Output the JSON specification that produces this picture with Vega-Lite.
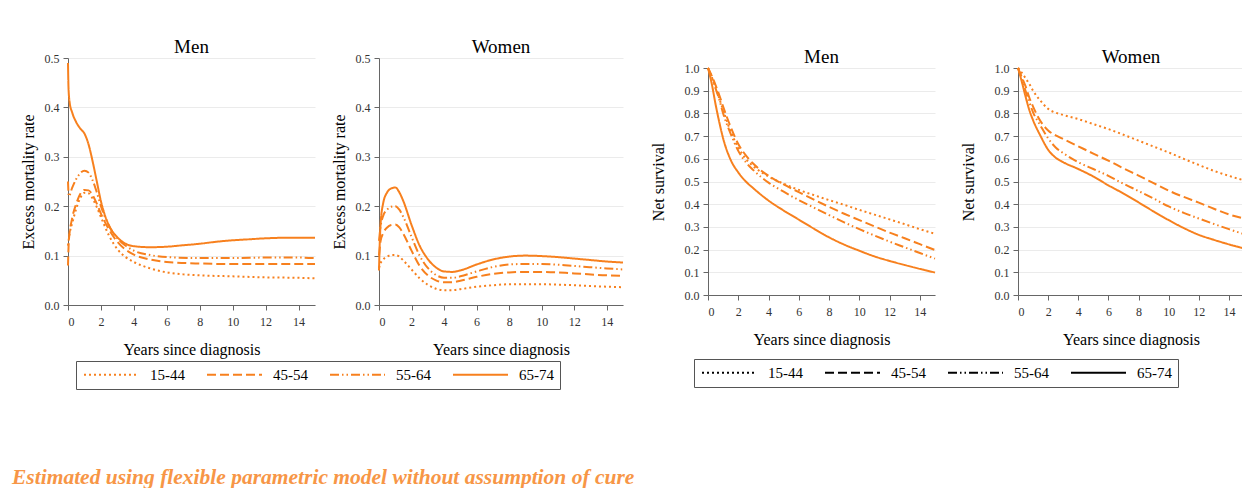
{
  "$schema": "https://vega.github.io/schema/vega-lite/v6.json",
  "background": "white",
  "padding": {"left": 12, "top": 37, "right": 0, "bottom": 0},
  "title": {"text": "Estimated using flexible parametric model without assumption of cure", "orient": "bottom", "anchor": "start", "frame": "bounds", "font": "Liberation Serif", "fontStyle": "italic", "fontWeight": "bold", "fontSize": 21.5, "color": "#F79646", "offset": 77, "dx": -8},
  "datasets": {
    "em": [
      {"sex":"Men","age":"65-74","t":0,"value":0.49},{"sex":"Men","age":"65-74","t":0.03,"value":0.44},{"sex":"Men","age":"65-74","t":0.1,"value":0.41},{"sex":"Men","age":"65-74","t":0.25,"value":0.39},{"sex":"Men","age":"65-74","t":0.5,"value":0.37},{"sex":"Men","age":"65-74","t":0.75,"value":0.357},{"sex":"Men","age":"65-74","t":1,"value":0.347},{"sex":"Men","age":"65-74","t":1.25,"value":0.325},{"sex":"Men","age":"65-74","t":1.5,"value":0.29},{"sex":"Men","age":"65-74","t":1.75,"value":0.25},{"sex":"Men","age":"65-74","t":2,"value":0.21},{"sex":"Men","age":"65-74","t":2.5,"value":0.16},{"sex":"Men","age":"65-74","t":3,"value":0.137},{"sex":"Men","age":"65-74","t":3.5,"value":0.124},{"sex":"Men","age":"65-74","t":4,"value":0.119},{"sex":"Men","age":"65-74","t":5,"value":0.117},{"sex":"Men","age":"65-74","t":6,"value":0.118},{"sex":"Men","age":"65-74","t":7,"value":0.121},{"sex":"Men","age":"65-74","t":8,"value":0.124},{"sex":"Men","age":"65-74","t":9,"value":0.128},{"sex":"Men","age":"65-74","t":10,"value":0.131},{"sex":"Men","age":"65-74","t":11,"value":0.133},{"sex":"Men","age":"65-74","t":12,"value":0.135},{"sex":"Men","age":"65-74","t":13,"value":0.136},{"sex":"Men","age":"65-74","t":14,"value":0.136},{"sex":"Men","age":"65-74","t":15,"value":0.136},
      {"sex":"Men","age":"55-64","t":0,"value":0.25},{"sex":"Men","age":"55-64","t":0.05,"value":0.22},{"sex":"Men","age":"55-64","t":0.25,"value":0.237},{"sex":"Men","age":"55-64","t":0.5,"value":0.255},{"sex":"Men","age":"55-64","t":0.75,"value":0.267},{"sex":"Men","age":"55-64","t":1,"value":0.272},{"sex":"Men","age":"55-64","t":1.25,"value":0.268},{"sex":"Men","age":"55-64","t":1.5,"value":0.252},{"sex":"Men","age":"55-64","t":1.75,"value":0.228},{"sex":"Men","age":"55-64","t":2,"value":0.2},{"sex":"Men","age":"55-64","t":2.5,"value":0.16},{"sex":"Men","age":"55-64","t":3,"value":0.135},{"sex":"Men","age":"55-64","t":3.5,"value":0.12},{"sex":"Men","age":"55-64","t":4,"value":0.11},{"sex":"Men","age":"55-64","t":5,"value":0.101},{"sex":"Men","age":"55-64","t":6,"value":0.097},{"sex":"Men","age":"55-64","t":8,"value":0.095},{"sex":"Men","age":"55-64","t":10,"value":0.095},{"sex":"Men","age":"55-64","t":12,"value":0.096},{"sex":"Men","age":"55-64","t":14,"value":0.096},{"sex":"Men","age":"55-64","t":15,"value":0.095},
      {"sex":"Men","age":"45-54","t":0,"value":0.08},{"sex":"Men","age":"45-54","t":0.05,"value":0.13},{"sex":"Men","age":"45-54","t":0.25,"value":0.175},{"sex":"Men","age":"45-54","t":0.5,"value":0.205},{"sex":"Men","age":"45-54","t":0.75,"value":0.225},{"sex":"Men","age":"45-54","t":1,"value":0.233},{"sex":"Men","age":"45-54","t":1.25,"value":0.232},{"sex":"Men","age":"45-54","t":1.5,"value":0.222},{"sex":"Men","age":"45-54","t":1.75,"value":0.205},{"sex":"Men","age":"45-54","t":2,"value":0.185},{"sex":"Men","age":"45-54","t":2.5,"value":0.152},{"sex":"Men","age":"45-54","t":3,"value":0.128},{"sex":"Men","age":"45-54","t":3.5,"value":0.112},{"sex":"Men","age":"45-54","t":4,"value":0.102},{"sex":"Men","age":"45-54","t":5,"value":0.092},{"sex":"Men","age":"45-54","t":6,"value":0.087},{"sex":"Men","age":"45-54","t":8,"value":0.084},{"sex":"Men","age":"45-54","t":10,"value":0.083},{"sex":"Men","age":"45-54","t":12,"value":0.083},{"sex":"Men","age":"45-54","t":14,"value":0.083},{"sex":"Men","age":"45-54","t":15,"value":0.083},
      {"sex":"Men","age":"15-44","t":0,"value":0.12},{"sex":"Men","age":"15-44","t":0.1,"value":0.145},{"sex":"Men","age":"15-44","t":0.25,"value":0.165},{"sex":"Men","age":"15-44","t":0.5,"value":0.195},{"sex":"Men","age":"15-44","t":0.75,"value":0.217},{"sex":"Men","age":"15-44","t":1,"value":0.227},{"sex":"Men","age":"15-44","t":1.25,"value":0.226},{"sex":"Men","age":"15-44","t":1.5,"value":0.215},{"sex":"Men","age":"15-44","t":1.75,"value":0.198},{"sex":"Men","age":"15-44","t":2,"value":0.178},{"sex":"Men","age":"15-44","t":2.5,"value":0.14},{"sex":"Men","age":"15-44","t":3,"value":0.113},{"sex":"Men","age":"15-44","t":3.5,"value":0.097},{"sex":"Men","age":"15-44","t":4,"value":0.087},{"sex":"Men","age":"15-44","t":5,"value":0.074},{"sex":"Men","age":"15-44","t":6,"value":0.066},{"sex":"Men","age":"15-44","t":7,"value":0.062},{"sex":"Men","age":"15-44","t":8,"value":0.06},{"sex":"Men","age":"15-44","t":10,"value":0.058},{"sex":"Men","age":"15-44","t":12,"value":0.056},{"sex":"Men","age":"15-44","t":14,"value":0.055},{"sex":"Men","age":"15-44","t":15,"value":0.054},
      {"sex":"Women","age":"65-74","t":0,"value":0.07},{"sex":"Women","age":"65-74","t":0.05,"value":0.13},{"sex":"Women","age":"65-74","t":0.1,"value":0.165},{"sex":"Women","age":"65-74","t":0.25,"value":0.205},{"sex":"Women","age":"65-74","t":0.5,"value":0.228},{"sex":"Women","age":"65-74","t":0.75,"value":0.236},{"sex":"Women","age":"65-74","t":1,"value":0.238},{"sex":"Women","age":"65-74","t":1.25,"value":0.228},{"sex":"Women","age":"65-74","t":1.5,"value":0.21},{"sex":"Women","age":"65-74","t":2,"value":0.162},{"sex":"Women","age":"65-74","t":2.5,"value":0.12},{"sex":"Women","age":"65-74","t":3,"value":0.093},{"sex":"Women","age":"65-74","t":3.5,"value":0.076},{"sex":"Women","age":"65-74","t":4,"value":0.068},{"sex":"Women","age":"65-74","t":4.5,"value":0.067},{"sex":"Women","age":"65-74","t":5,"value":0.07},{"sex":"Women","age":"65-74","t":6,"value":0.082},{"sex":"Women","age":"65-74","t":7,"value":0.092},{"sex":"Women","age":"65-74","t":8,"value":0.098},{"sex":"Women","age":"65-74","t":9,"value":0.1},{"sex":"Women","age":"65-74","t":10,"value":0.099},{"sex":"Women","age":"65-74","t":11,"value":0.097},{"sex":"Women","age":"65-74","t":12,"value":0.094},{"sex":"Women","age":"65-74","t":13,"value":0.091},{"sex":"Women","age":"65-74","t":14,"value":0.088},{"sex":"Women","age":"65-74","t":15,"value":0.086},
      {"sex":"Women","age":"55-64","t":0,"value":0.13},{"sex":"Women","age":"55-64","t":0.1,"value":0.16},{"sex":"Women","age":"55-64","t":0.25,"value":0.18},{"sex":"Women","age":"55-64","t":0.5,"value":0.193},{"sex":"Women","age":"55-64","t":0.75,"value":0.199},{"sex":"Women","age":"55-64","t":1,"value":0.2},{"sex":"Women","age":"55-64","t":1.25,"value":0.193},{"sex":"Women","age":"55-64","t":1.5,"value":0.178},{"sex":"Women","age":"55-64","t":2,"value":0.138},{"sex":"Women","age":"55-64","t":2.5,"value":0.1},{"sex":"Women","age":"55-64","t":3,"value":0.075},{"sex":"Women","age":"55-64","t":3.5,"value":0.061},{"sex":"Women","age":"55-64","t":4,"value":0.055},{"sex":"Women","age":"55-64","t":4.5,"value":0.055},{"sex":"Women","age":"55-64","t":5,"value":0.058},{"sex":"Women","age":"55-64","t":6,"value":0.068},{"sex":"Women","age":"55-64","t":7,"value":0.077},{"sex":"Women","age":"55-64","t":8,"value":0.082},{"sex":"Women","age":"55-64","t":9,"value":0.083},{"sex":"Women","age":"55-64","t":10,"value":0.083},{"sex":"Women","age":"55-64","t":12,"value":0.079},{"sex":"Women","age":"55-64","t":14,"value":0.074},{"sex":"Women","age":"55-64","t":15,"value":0.072},
      {"sex":"Women","age":"45-54","t":0,"value":0.1},{"sex":"Women","age":"45-54","t":0.1,"value":0.13},{"sex":"Women","age":"45-54","t":0.25,"value":0.145},{"sex":"Women","age":"45-54","t":0.5,"value":0.157},{"sex":"Women","age":"45-54","t":0.75,"value":0.162},{"sex":"Women","age":"45-54","t":1,"value":0.163},{"sex":"Women","age":"45-54","t":1.25,"value":0.157},{"sex":"Women","age":"45-54","t":1.5,"value":0.144},{"sex":"Women","age":"45-54","t":2,"value":0.11},{"sex":"Women","age":"45-54","t":2.5,"value":0.079},{"sex":"Women","age":"45-54","t":3,"value":0.06},{"sex":"Women","age":"45-54","t":3.5,"value":0.05},{"sex":"Women","age":"45-54","t":4,"value":0.046},{"sex":"Women","age":"45-54","t":4.5,"value":0.046},{"sex":"Women","age":"45-54","t":5,"value":0.049},{"sex":"Women","age":"45-54","t":6,"value":0.057},{"sex":"Women","age":"45-54","t":7,"value":0.063},{"sex":"Women","age":"45-54","t":8,"value":0.066},{"sex":"Women","age":"45-54","t":9,"value":0.067},{"sex":"Women","age":"45-54","t":10,"value":0.067},{"sex":"Women","age":"45-54","t":12,"value":0.064},{"sex":"Women","age":"45-54","t":14,"value":0.06},{"sex":"Women","age":"45-54","t":15,"value":0.059},
      {"sex":"Women","age":"15-44","t":0,"value":0.075},{"sex":"Women","age":"15-44","t":0.1,"value":0.085},{"sex":"Women","age":"15-44","t":0.25,"value":0.092},{"sex":"Women","age":"15-44","t":0.5,"value":0.098},{"sex":"Women","age":"15-44","t":0.75,"value":0.101},{"sex":"Women","age":"15-44","t":1,"value":0.101},{"sex":"Women","age":"15-44","t":1.25,"value":0.098},{"sex":"Women","age":"15-44","t":1.5,"value":0.09},{"sex":"Women","age":"15-44","t":2,"value":0.072},{"sex":"Women","age":"15-44","t":2.5,"value":0.054},{"sex":"Women","age":"15-44","t":3,"value":0.041},{"sex":"Women","age":"15-44","t":3.5,"value":0.033},{"sex":"Women","age":"15-44","t":4,"value":0.03},{"sex":"Women","age":"15-44","t":4.5,"value":0.03},{"sex":"Women","age":"15-44","t":5,"value":0.032},{"sex":"Women","age":"15-44","t":6,"value":0.037},{"sex":"Women","age":"15-44","t":7,"value":0.04},{"sex":"Women","age":"15-44","t":8,"value":0.042},{"sex":"Women","age":"15-44","t":9,"value":0.042},{"sex":"Women","age":"15-44","t":10,"value":0.042},{"sex":"Women","age":"15-44","t":12,"value":0.04},{"sex":"Women","age":"15-44","t":14,"value":0.037},{"sex":"Women","age":"15-44","t":15,"value":0.036}
    ],
    "ns": [
      {"sex":"Men","age":"65-74","t":0,"value":1},{"sex":"Men","age":"65-74","t":0.25,"value":0.93},{"sex":"Men","age":"65-74","t":0.5,"value":0.84},{"sex":"Men","age":"65-74","t":0.75,"value":0.76},{"sex":"Men","age":"65-74","t":1,"value":0.69},{"sex":"Men","age":"65-74","t":1.5,"value":0.595},{"sex":"Men","age":"65-74","t":2,"value":0.54},{"sex":"Men","age":"65-74","t":2.5,"value":0.5},{"sex":"Men","age":"65-74","t":3,"value":0.47},{"sex":"Men","age":"65-74","t":4,"value":0.416},{"sex":"Men","age":"65-74","t":5,"value":0.372},{"sex":"Men","age":"65-74","t":6,"value":0.332},{"sex":"Men","age":"65-74","t":7,"value":0.292},{"sex":"Men","age":"65-74","t":8,"value":0.254},{"sex":"Men","age":"65-74","t":9,"value":0.222},{"sex":"Men","age":"65-74","t":10,"value":0.195},{"sex":"Men","age":"65-74","t":11,"value":0.17},{"sex":"Men","age":"65-74","t":12,"value":0.15},{"sex":"Men","age":"65-74","t":13,"value":0.132},{"sex":"Men","age":"65-74","t":14,"value":0.115},{"sex":"Men","age":"65-74","t":15,"value":0.099},
      {"sex":"Men","age":"55-64","t":0,"value":1},{"sex":"Men","age":"55-64","t":0.25,"value":0.96},{"sex":"Men","age":"55-64","t":0.5,"value":0.91},{"sex":"Men","age":"55-64","t":0.75,"value":0.86},{"sex":"Men","age":"55-64","t":1,"value":0.8},{"sex":"Men","age":"55-64","t":1.5,"value":0.71},{"sex":"Men","age":"55-64","t":2,"value":0.635},{"sex":"Men","age":"55-64","t":2.5,"value":0.585},{"sex":"Men","age":"55-64","t":3,"value":0.55},{"sex":"Men","age":"55-64","t":4,"value":0.495},{"sex":"Men","age":"55-64","t":5,"value":0.455},{"sex":"Men","age":"55-64","t":6,"value":0.418},{"sex":"Men","age":"55-64","t":7,"value":0.385},{"sex":"Men","age":"55-64","t":8,"value":0.352},{"sex":"Men","age":"55-64","t":9,"value":0.32},{"sex":"Men","age":"55-64","t":10,"value":0.29},{"sex":"Men","age":"55-64","t":11,"value":0.262},{"sex":"Men","age":"55-64","t":12,"value":0.235},{"sex":"Men","age":"55-64","t":13,"value":0.21},{"sex":"Men","age":"55-64","t":14,"value":0.185},{"sex":"Men","age":"55-64","t":15,"value":0.16},
      {"sex":"Men","age":"45-54","t":0,"value":1},{"sex":"Men","age":"45-54","t":0.25,"value":0.965},{"sex":"Men","age":"45-54","t":0.5,"value":0.925},{"sex":"Men","age":"45-54","t":0.75,"value":0.88},{"sex":"Men","age":"45-54","t":1,"value":0.83},{"sex":"Men","age":"45-54","t":1.5,"value":0.74},{"sex":"Men","age":"45-54","t":2,"value":0.665},{"sex":"Men","age":"45-54","t":2.5,"value":0.615},{"sex":"Men","age":"45-54","t":3,"value":0.578},{"sex":"Men","age":"45-54","t":4,"value":0.525},{"sex":"Men","age":"45-54","t":5,"value":0.487},{"sex":"Men","age":"45-54","t":6,"value":0.453},{"sex":"Men","age":"45-54","t":7,"value":0.42},{"sex":"Men","age":"45-54","t":8,"value":0.388},{"sex":"Men","age":"45-54","t":9,"value":0.358},{"sex":"Men","age":"45-54","t":10,"value":0.33},{"sex":"Men","age":"45-54","t":11,"value":0.302},{"sex":"Men","age":"45-54","t":12,"value":0.275},{"sex":"Men","age":"45-54","t":13,"value":0.25},{"sex":"Men","age":"45-54","t":14,"value":0.224},{"sex":"Men","age":"45-54","t":15,"value":0.198},
      {"sex":"Men","age":"15-44","t":0,"value":1},{"sex":"Men","age":"15-44","t":0.25,"value":0.96},{"sex":"Men","age":"15-44","t":0.5,"value":0.915},{"sex":"Men","age":"15-44","t":0.75,"value":0.865},{"sex":"Men","age":"15-44","t":1,"value":0.815},{"sex":"Men","age":"15-44","t":1.5,"value":0.72},{"sex":"Men","age":"15-44","t":2,"value":0.65},{"sex":"Men","age":"15-44","t":2.5,"value":0.6},{"sex":"Men","age":"15-44","t":3,"value":0.567},{"sex":"Men","age":"15-44","t":4,"value":0.522},{"sex":"Men","age":"15-44","t":5,"value":0.49},{"sex":"Men","age":"15-44","t":6,"value":0.463},{"sex":"Men","age":"15-44","t":7,"value":0.44},{"sex":"Men","age":"15-44","t":8,"value":0.418},{"sex":"Men","age":"15-44","t":9,"value":0.397},{"sex":"Men","age":"15-44","t":10,"value":0.375},{"sex":"Men","age":"15-44","t":11,"value":0.354},{"sex":"Men","age":"15-44","t":12,"value":0.333},{"sex":"Men","age":"15-44","t":13,"value":0.312},{"sex":"Men","age":"15-44","t":14,"value":0.29},{"sex":"Men","age":"15-44","t":15,"value":0.27},
      {"sex":"Women","age":"65-74","t":0,"value":1},{"sex":"Women","age":"65-74","t":0.25,"value":0.94},{"sex":"Women","age":"65-74","t":0.5,"value":0.875},{"sex":"Women","age":"65-74","t":0.75,"value":0.815},{"sex":"Women","age":"65-74","t":1,"value":0.77},{"sex":"Women","age":"65-74","t":1.5,"value":0.7},{"sex":"Women","age":"65-74","t":2,"value":0.64},{"sex":"Women","age":"65-74","t":2.5,"value":0.605},{"sex":"Women","age":"65-74","t":3,"value":0.585},{"sex":"Women","age":"65-74","t":4,"value":0.555},{"sex":"Women","age":"65-74","t":5,"value":0.522},{"sex":"Women","age":"65-74","t":6,"value":0.483},{"sex":"Women","age":"65-74","t":7,"value":0.447},{"sex":"Women","age":"65-74","t":8,"value":0.408},{"sex":"Women","age":"65-74","t":9,"value":0.368},{"sex":"Women","age":"65-74","t":10,"value":0.33},{"sex":"Women","age":"65-74","t":11,"value":0.295},{"sex":"Women","age":"65-74","t":12,"value":0.265},{"sex":"Women","age":"65-74","t":13,"value":0.243},{"sex":"Women","age":"65-74","t":14,"value":0.223},{"sex":"Women","age":"65-74","t":15,"value":0.205},
      {"sex":"Women","age":"55-64","t":0,"value":1},{"sex":"Women","age":"55-64","t":0.25,"value":0.955},{"sex":"Women","age":"55-64","t":0.5,"value":0.9},{"sex":"Women","age":"55-64","t":0.75,"value":0.85},{"sex":"Women","age":"55-64","t":1,"value":0.805},{"sex":"Women","age":"55-64","t":1.5,"value":0.745},{"sex":"Women","age":"55-64","t":2,"value":0.69},{"sex":"Women","age":"55-64","t":2.5,"value":0.65},{"sex":"Women","age":"55-64","t":3,"value":0.625},{"sex":"Women","age":"55-64","t":4,"value":0.585},{"sex":"Women","age":"55-64","t":5,"value":0.555},{"sex":"Women","age":"55-64","t":6,"value":0.525},{"sex":"Women","age":"55-64","t":7,"value":0.49},{"sex":"Women","age":"55-64","t":8,"value":0.458},{"sex":"Women","age":"55-64","t":9,"value":0.425},{"sex":"Women","age":"55-64","t":10,"value":0.39},{"sex":"Women","age":"55-64","t":11,"value":0.362},{"sex":"Women","age":"55-64","t":12,"value":0.337},{"sex":"Women","age":"55-64","t":13,"value":0.313},{"sex":"Women","age":"55-64","t":14,"value":0.29},{"sex":"Women","age":"55-64","t":15,"value":0.268},
      {"sex":"Women","age":"45-54","t":0,"value":1},{"sex":"Women","age":"45-54","t":0.25,"value":0.96},{"sex":"Women","age":"45-54","t":0.5,"value":0.92},{"sex":"Women","age":"45-54","t":0.75,"value":0.87},{"sex":"Women","age":"45-54","t":1,"value":0.83},{"sex":"Women","age":"45-54","t":1.5,"value":0.765},{"sex":"Women","age":"45-54","t":2,"value":0.725},{"sex":"Women","age":"45-54","t":2.5,"value":0.703},{"sex":"Women","age":"45-54","t":3,"value":0.687},{"sex":"Women","age":"45-54","t":4,"value":0.655},{"sex":"Women","age":"45-54","t":5,"value":0.623},{"sex":"Women","age":"45-54","t":6,"value":0.592},{"sex":"Women","age":"45-54","t":7,"value":0.558},{"sex":"Women","age":"45-54","t":8,"value":0.526},{"sex":"Women","age":"45-54","t":9,"value":0.493},{"sex":"Women","age":"45-54","t":10,"value":0.46},{"sex":"Women","age":"45-54","t":11,"value":0.432},{"sex":"Women","age":"45-54","t":12,"value":0.407},{"sex":"Women","age":"45-54","t":13,"value":0.38},{"sex":"Women","age":"45-54","t":14,"value":0.355},{"sex":"Women","age":"45-54","t":15,"value":0.337},
      {"sex":"Women","age":"15-44","t":0,"value":1},{"sex":"Women","age":"15-44","t":0.25,"value":0.98},{"sex":"Women","age":"15-44","t":0.5,"value":0.955},{"sex":"Women","age":"15-44","t":0.75,"value":0.93},{"sex":"Women","age":"15-44","t":1,"value":0.9},{"sex":"Women","age":"15-44","t":1.5,"value":0.855},{"sex":"Women","age":"15-44","t":2,"value":0.82},{"sex":"Women","age":"15-44","t":2.5,"value":0.803},{"sex":"Women","age":"15-44","t":3,"value":0.793},{"sex":"Women","age":"15-44","t":4,"value":0.775},{"sex":"Women","age":"15-44","t":5,"value":0.753},{"sex":"Women","age":"15-44","t":6,"value":0.731},{"sex":"Women","age":"15-44","t":7,"value":0.706},{"sex":"Women","age":"15-44","t":8,"value":0.68},{"sex":"Women","age":"15-44","t":9,"value":0.654},{"sex":"Women","age":"15-44","t":10,"value":0.628},{"sex":"Women","age":"15-44","t":11,"value":0.6},{"sex":"Women","age":"15-44","t":12,"value":0.573},{"sex":"Women","age":"15-44","t":13,"value":0.547},{"sex":"Women","age":"15-44","t":14,"value":0.525},{"sex":"Women","age":"15-44","t":15,"value":0.505}
    ]
  },
  "spacing": 23,
  "resolve": {"scale": {"strokeDash": "independent"}, "legend": {"strokeDash": "independent"}},
  "hconcat": [
    {
      "spacing": 0,
      "vconcat": [
        {"width": 10, "height": 1, "data": {"values": []}, "mark": "point"},
        {
          "spacing": 12,
          "hconcat": [
            {
              "width": 247, "height": 247,
              "title": {"text": "Men"},
              "data": {"name": "em"},
              "transform": [{"filter": "datum.sex === 'Men'"}],
              "mark": {"type": "line", "interpolate": "monotone", "color": "#F7801E", "strokeWidth": 2},
              "encoding": {
                "x": {"field": "t", "type": "quantitative", "scale": {"domain": [0, 15], "nice": false}, "axis": {"values": [0,2,4,6,8,10,12,14], "title": "Years since diagnosis"}},
                "y": {"field": "value", "type": "quantitative", "scale": {"domain": [0, 0.5], "nice": false}, "axis": {"values": [0,0.1,0.2,0.3,0.4,0.5], "format": ".1f", "title": "Excess mortality rate", "titlePadding": 8}},
                "strokeDash": {"field": "age", "type": "nominal", "scale": {"domain": ["15-44","45-54","55-64","65-74"], "range": [[2,3],[9,4],[9,3,1.5,3,1.5,3],[1,0]]},
                  "legend": {"title": null, "orient": "none", "legendX": 8, "legendY": 324, "direction": "horizontal", "columns": 4, "symbolType": "M-5,0H5", "symbolSize": 121, "symbolOffset": 22, "symbolStrokeWidth": 2, "symbolStrokeColor": "#F7801E", "labelFontSize": 15, "labelOffset": 31, "columnPadding": 18, "strokeColor": "#555", "padding": 6}}
              }
            },
            {
              "width": 244, "height": 247,
              "title": {"text": "Women"},
              "data": {"name": "em"},
              "transform": [{"filter": "datum.sex === 'Women'"}],
              "mark": {"type": "line", "interpolate": "monotone", "color": "#F7801E", "strokeWidth": 2},
              "encoding": {
                "x": {"field": "t", "type": "quantitative", "scale": {"domain": [0, 15], "nice": false}, "axis": {"values": [0,2,4,6,8,10,12,14], "title": "Years since diagnosis"}},
                "y": {"field": "value", "type": "quantitative", "scale": {"domain": [0, 0.5], "nice": false}, "axis": {"values": [0,0.1,0.2,0.3,0.4,0.5], "format": ".1f", "title": "Excess mortality rate", "titlePadding": 8}},
                "strokeDash": {"field": "age", "type": "nominal", "scale": {"domain": ["15-44","45-54","55-64","65-74"], "range": [[2,3],[9,4],[9,3,1.5,3,1.5,3],[1,0]]},
                  "legend": {"title": null, "orient": "none", "legendX": 8, "legendY": 324, "direction": "horizontal", "columns": 4, "symbolType": "M-5,0H5", "symbolSize": 121, "symbolOffset": 22, "symbolStrokeWidth": 2, "symbolStrokeColor": "#F7801E", "labelFontSize": 15, "labelOffset": 31, "columnPadding": 18, "strokeColor": "#555", "padding": 6}}
              }
            }
          ]
        }
      ]
    },
    {
      "spacing": 0,
      "vconcat": [
        {"width": 10, "height": 11, "data": {"values": []}, "mark": "point"},
        {
          "spacing": 21,
          "hconcat": [
            {
              "width": 227, "height": 227,
              "title": {"text": "Men"},
              "data": {"name": "ns"},
              "transform": [{"filter": "datum.sex === 'Men'"}],
              "mark": {"type": "line", "interpolate": "monotone", "color": "#F7801E", "strokeWidth": 2},
              "encoding": {
                "x": {"field": "t", "type": "quantitative", "scale": {"domain": [0, 15], "nice": false}, "axis": {"values": [0,2,4,6,8,10,12,14], "title": "Years since diagnosis"}},
                "y": {"field": "value", "type": "quantitative", "scale": {"domain": [0, 1], "nice": false}, "axis": {"values": [0,0.1,0.2,0.3,0.4,0.5,0.6,0.7,0.8,0.9,1], "format": ".1f", "title": "Net survival", "titlePadding": 18}},
                "strokeDash": {"field": "age", "type": "nominal", "scale": {"domain": ["15-44","45-54","55-64","65-74"], "range": [[2,3],[9,4],[9,3,1.5,3,1.5,3],[1,0]]},
                  "legend": {"title": null, "orient": "none", "legendX": -14, "legendY": 322, "direction": "horizontal", "columns": 4, "symbolType": "M-5,0H5", "symbolSize": 121, "symbolOffset": 22, "symbolStrokeWidth": 2, "symbolStrokeColor": "black", "labelFontSize": 15, "labelOffset": 31, "columnPadding": 18, "strokeColor": "#555", "padding": 6}}
              }
            },
            {
              "width": 226, "height": 227,
              "title": {"text": "Women"},
              "data": {"name": "ns"},
              "transform": [{"filter": "datum.sex === 'Women'"}],
              "mark": {"type": "line", "interpolate": "monotone", "color": "#F7801E", "strokeWidth": 2},
              "encoding": {
                "x": {"field": "t", "type": "quantitative", "scale": {"domain": [0, 15], "nice": false}, "axis": {"values": [0,2,4,6,8,10,12,14], "title": "Years since diagnosis"}},
                "y": {"field": "value", "type": "quantitative", "scale": {"domain": [0, 1], "nice": false}, "axis": {"values": [0,0.1,0.2,0.3,0.4,0.5,0.6,0.7,0.8,0.9,1], "format": ".1f", "title": "Net survival", "titlePadding": 18}},
                "strokeDash": {"field": "age", "type": "nominal", "scale": {"domain": ["15-44","45-54","55-64","65-74"], "range": [[2,3],[9,4],[9,3,1.5,3,1.5,3],[1,0]]},
                  "legend": {"title": null, "orient": "none", "legendX": -14, "legendY": 322, "direction": "horizontal", "columns": 4, "symbolType": "M-5,0H5", "symbolSize": 121, "symbolOffset": 22, "symbolStrokeWidth": 2, "symbolStrokeColor": "black", "labelFontSize": 15, "labelOffset": 31, "columnPadding": 18, "strokeColor": "#555", "padding": 6}}
              }
            }
          ]
        }
      ]
    }
  ],
  "config": {
    "font": "Liberation Serif",
    "view": {"stroke": null},
    "title": {"font": "Liberation Serif", "fontSize": 19, "fontWeight": "normal", "color": "black", "offset": -5, "frame": "group"},
    "axis": {"labelFont": "Liberation Serif", "titleFont": "Liberation Serif", "labelFontSize": 12, "titleFontSize": 16, "titleFontWeight": "normal", "labelColor": "#333", "titleColor": "black", "domainColor": "#666", "tickColor": "#666", "gridColor": "#ebebeb", "tickSize": 5, "labelPadding": 4},
    "axisX": {"grid": false, "titlePadding": 14, "labelPadding": 6},
    "axisY": {"grid": true},
    "legend": {"labelFont": "Liberation Serif", "labelColor": "black"}
  }
}
